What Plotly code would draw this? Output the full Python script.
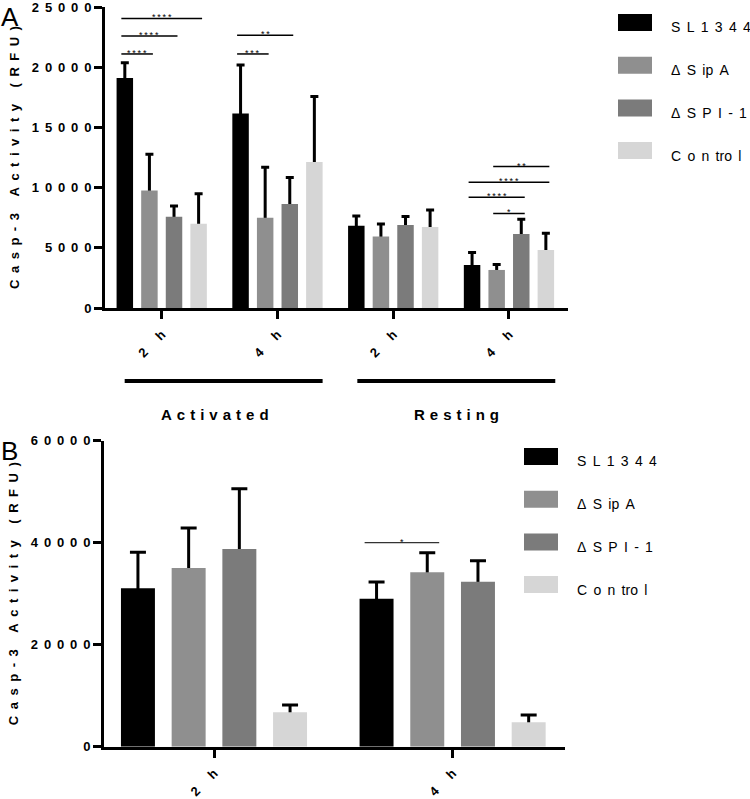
import plotly.graph_objects as go

# ---------------- data ----------------
series = ["SL1344", "ΔSipA", "ΔSPI-1", "Control"]
legend_text = ["S L 1 3 4 4", "Δ S ip A", "Δ S P I - 1", "C o n tro l"]
colors = ["#000000", "#8f8f8f", "#7b7b7b", "#d6d6d6"]

# Panel A : Activated 2 h, Activated 4 h, Resting 2 h, Resting 4 h
a_groups = ["2 h", "4 h", "2 h", "4 h"]
a_conditions = ["Activated", "Resting"]
a_sl1344 = [19100, 16150, 6840, 3570]
a_sipa = [9750, 7490, 5940, 3160]
a_spi1 = [7570, 8630, 6890, 6150]
a_control = [7000, 12120, 6730, 4820]
a_sl1344_sd = [1270, 4030, 810, 1030]
a_sipa_sd = [3020, 4190, 1030, 460]
a_spi1_sd = [900, 2210, 710, 1230]
a_control_sd = [2480, 5440, 1410, 1390]
a_ticks = [0, 5000, 10000, 15000, 20000, 25000]
# (group, series from, series to, height, label)
a_sig = [
    (0, 0, 1, 21100, "****"),
    (0, 0, 2, 22600, "****"),
    (0, 0, 3, 24050, "****"),
    (1, 0, 1, 21100, "***"),
    (1, 0, 2, 22650, "**"),
    (3, 1, 3, 11750, "**"),
    (3, 0, 3, 10450, "****"),
    (3, 0, 2, 9200, "****"),
    (3, 1, 2, 7850, "*"),
]

# Panel B
b_groups = ["2 h", "4 h"]
b_sl1344 = [31060, 29020]
b_sipa = [35040, 34190]
b_spi1 = [38760, 32360]
b_control = [6740, 4780]
b_sl1344_sd = [7060, 3270]
b_sipa_sd = [7840, 3850]
b_spi1_sd = [11830, 4110]
b_control_sd = [1440, 1430]
b_ticks = [0, 20000, 40000, 60000]
b_sig = [(1, 0, 1, 40000, "*")]

# ---------------- helpers ----------------
W, H = 750, 799
EN = "\u2002"
P3 = "\u2004"
P4 = "\u2005"
TH = "\u2009"
FONT = "Liberation Sans, Arial, Helvetica, sans-serif"
BARGAP = 0.15
BARGROUPGAP = 0.33
PITCH = (1 - BARGAP) / 4


def spaced(s, sep=EN, wordsep=None):
    if wordsep is None:
        wordsep = sep + " " + sep
    return wordsep.join(sep.join(list(w)) for w in s.split(" "))


def px(xp):
    return xp / W


def py(yp):
    return 1 - yp / H


def bar_center(g, i):
    return g + (i - 1.5) * PITCH


fig = go.Figure()

a_means = [a_sl1344, a_sipa, a_spi1, a_control]
a_sds = [a_sl1344_sd, a_sipa_sd, a_spi1_sd, a_control_sd]
b_means = [b_sl1344, b_sipa, b_spi1, b_control]
b_sds = [b_sl1344_sd, b_sipa_sd, b_spi1_sd, b_control_sd]

for xa, ya, means, sds, ngroups, cap, hide in [
    ("x", "y", a_means, a_sds, len(a_groups), 4, 500),
    ("x2", "y2", b_means, b_sds, len(b_groups), 8, 1500),
]:
    xs = list(range(ngroups))
    for i, name in enumerate(series):
        # error bars (drawn first, hidden below bar top)
        fig.add_trace(go.Bar(
            x=xs, y=means[i], name=name, xaxis=xa, yaxis=ya,
            offsetgroup=str(i), marker=dict(color="rgba(0,0,0,0)", line=dict(width=0)),
            error_y=dict(type="data", symmetric=False, array=sds[i],
                         arrayminus=[hide] * ngroups, color="black",
                         thickness=3, width=cap),
            showlegend=False, hoverinfo="skip"))
        fig.add_trace(go.Bar(
            x=xs, y=means[i], name=name, xaxis=xa, yaxis=ya,
            offsetgroup=str(i), marker=dict(color=colors[i], line=dict(width=0)),
            showlegend=False))

shapes = []
annotations = []

# significance lines
for sig, xa, ya, ext, lw in [(a_sig, "x", "y", 0.03, 1.5), (b_sig, "x2", "y2", 0.05, 1.2)]:
    for g, i0, i1, yv, lab in sig:
        x0 = bar_center(g, i0) - ext
        x1 = bar_center(g, i1) + ext
        shapes.append(dict(type="line", xref=xa, yref=ya, x0=x0, x1=x1, y0=yv, y1=yv,
                           line=dict(color="black" if xa == "x" else "#333333", width=lw)))
        annotations.append(dict(x=(x0 + x1) / 2, y=yv, xref=xa, yref=ya, text=TH.join(lab),
                                showarrow=False, yanchor="middle", yshift=1,
                                font=dict(size=9, family=FONT, color="black")))

# condition underlines in panel A
for lab, x0, x1, xl in [(a_conditions[0], -0.32, 1.39, 0.46), (a_conditions[1], 1.69, 3.40, 2.55)]:
    shapes.append(dict(type="line", xref="x", yref="paper", x0=x0, x1=x1,
                       y0=py(381), y1=py(381), line=dict(color="black", width=4)))
    annotations.append(dict(x=xl, y=py(415), xref="x", yref="paper",
                            text=spaced(lab, P3), showarrow=False, yanchor="middle",
                            font=dict(size=15, family=FONT, color="black", weight="bold")))

# manual legends
for lx, ly in [(618, 14), (524, 448)]:
    for i, lab in enumerate(legend_text):
        top = ly + i * 42.7
        shapes.append(dict(type="rect", xref="paper", yref="paper",
                           x0=px(lx), x1=px(lx + 34), y0=py(top + 17), y1=py(top),
                           fillcolor=colors[i], line=dict(width=0)))
        annotations.append(dict(x=px(lx + 51), y=py(top + 13.5), xref="paper", yref="paper",
                                text=lab.replace(" ", P4 + TH), showarrow=False,
                                xanchor="left", yanchor="middle",
                                font=dict(size=14, family=FONT, color="black")))

# panel letters
annotations.append(dict(x=0, y=1, xref="paper", yref="paper", text="A", showarrow=False,
                        xanchor="left", yanchor="top", xshift=-1,
                        font=dict(size=26, family=FONT, color="black")))
annotations.append(dict(x=0, y=py(434), xref="paper", yref="paper", text="B", showarrow=False,
                        xanchor="left", yanchor="top", xshift=-1,
                        font=dict(size=26, family=FONT, color="black")))

axis_common = dict(showline=True, linewidth=3, linecolor="black", ticks="outside",
                   ticklen=8, tickwidth=3, tickcolor="black", showgrid=False,
                   zeroline=False, fixedrange=True, automargin=False)
tickfont = dict(size=13, family=FONT, color="black", weight="bold")
ytitle = spaced("Casp-3 Activity (RFU)")

fig.update_layout(
    template="none",
    width=W, height=H, margin=dict(l=0, r=0, t=0, b=0, autoexpand=False),
    paper_bgcolor="white", plot_bgcolor="white", showlegend=False,
    barmode="group", bargap=BARGAP, bargroupgap=BARGROUPGAP,
    font=dict(family=FONT, color="black"),
    xaxis=dict(domain=[px(105), px(568)], range=[-0.49, 3.51], anchor="y",
               tickvals=list(range(len(a_groups))), ticktext=[spaced(t) for t in a_groups],
               tickangle=-45, tickfont=tickfont, ticklabelstandoff=3, **axis_common),
    yaxis=dict(domain=[py(308), py(7)], range=[0, 25000], anchor="x",
               tickvals=a_ticks, ticktext=[spaced(str(t), P4 + TH) for t in a_ticks],
               tickfont=tickfont, ticklabeloverflow="allow",
               title=dict(text=ytitle, font=dict(size=13, family=FONT, color="black", weight="bold"),
                          standoff=10),
               **axis_common),
    xaxis2=dict(domain=[px(104), px(565)], range=[-0.461, 1.471], anchor="y2",
                tickvals=list(range(len(b_groups))), ticktext=[spaced(t) for t in b_groups],
                tickangle=-45, tickfont=tickfont, ticklabelstandoff=3, **axis_common),
    yaxis2=dict(domain=[py(746.7), py(440.7)], range=[0, 60000], anchor="x2",
                tickvals=b_ticks, ticktext=[spaced(str(t), P4 + TH) for t in b_ticks],
                tickfont=tickfont, ticklabeloverflow="allow",
                title=dict(text=ytitle, font=dict(size=13, family=FONT, color="black", weight="bold"),
                           standoff=10),
                **axis_common),
    shapes=shapes, annotations=annotations,
)

fig.write_html("out.html", config={"displayModeBar": False},
               post_script="document.body.style.margin='0';document.body.style.overflow='hidden';")
